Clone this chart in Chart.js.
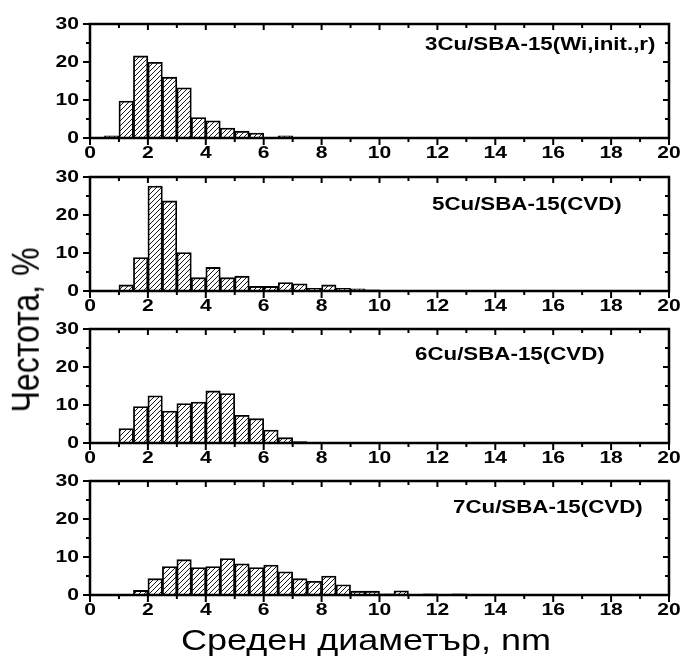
<!DOCTYPE html>
<html>
<head>
<meta charset="utf-8">
<script src="https://cdn.jsdelivr.net/npm/chart.js@4.4.0/dist/chart.umd.min.js"></script>
<style>
    html, body { margin: 0; padding: 0; background: #fff; }
    #wrap { position: relative; width: 683px; height: 666px; overflow: hidden; font-family: Arial, "Liberation Sans", sans-serif; }
    .panel { position: absolute; left: 0; width: 683px; height: 152px; }
    #ytitle { position: absolute; left: 26px; top: 330px; font-size: 32px; white-space: nowrap;
              transform: translate(-50%, -50%) rotate(-90deg) scaleY(1.2); }
    #xtitle { position: absolute; left: 366px; top: 640px; font-size: 30px; white-space: nowrap;
              transform: translate(-50%, -50%) scaleX(1.2); }
</style>
</head>
<body>
<div id="wrap">
    <div class="panel" style="top:16px"><canvas id="c0" width="683" height="152"></canvas></div>
    <div class="panel" style="top:169px"><canvas id="c1" width="683" height="152"></canvas></div>
    <div class="panel" style="top:321px"><canvas id="c2" width="683" height="152"></canvas></div>
    <div class="panel" style="top:473px"><canvas id="c3" width="683" height="152"></canvas></div>
    <div id="ytitle">Честота, %</div>
    <div id="xtitle">Среден диаметър, nm</div>
</div>

<script>
// bin centres (bin width 0.5 nm)
const bins = [0.75, 1.25, 1.75, 2.25, 2.75, 3.25, 3.75, 4.25, 4.75, 5.25, 5.75, 6.25, 6.75,
              7.25, 7.75, 8.25, 8.75, 9.25, 9.75, 10.25, 10.75, 11.25, 11.75, 12.25, 12.75];

const cu3Wi  = [0.6, 9.7, 21.6, 19.9, 16.0, 13.2, 5.4, 4.5, 2.6, 1.8, 1.3, 0, 0.6,
                0.2, 0, 0, 0, 0, 0, 0, 0, 0, 0, 0, 0];
const cu5Cvd = [0, 1.6, 8.8, 27.6, 23.7, 10.1, 3.5, 6.2, 3.5, 3.9, 1.2, 1.2, 2.2,
                1.9, 0.7, 1.6, 0.7, 0.6, 0.3, 0, 0, 0, 0, 0, 0];
const cu6Cvd = [0, 3.8, 9.6, 12.4, 8.4, 10.4, 10.8, 13.7, 13.0, 7.3, 6.4, 3.4, 1.4,
                0.35, 0, 0, 0, 0, 0, 0, 0, 0, 0, 0, 0];
const cu7Cvd = [0, 0, 1.2, 4.3, 7.5, 9.3, 7.2, 7.5, 9.6, 8.2, 7.2, 7.9, 6.1,
                4.3, 3.6, 5.0, 2.7, 1.0, 1.0, 0.3, 1.1, 0, 0.3, 0, 0.3];

const sampleNames = ['3Cu/SBA-15(Wi,init.,r)', '5Cu/SBA-15(CVD)', '6Cu/SBA-15(CVD)', '7Cu/SBA-15(CVD)'];
const seriesList = [cu3Wi, cu5Cvd, cu6Cvd, cu7Cvd];

const xTickLabels = [0, 2, 4, 6, 8, 10, 12, 14, 16, 18, 20];
const xMinorTicks = [1, 3, 5, 7, 9, 11, 13, 15, 17, 19];
const yTickLabels = [0, 10, 20, 30];
const yMinorTicks = [5, 15, 25];

// where the sample name sits inside each panel (px)
const namePos = [{ x: 425, y: 21 }, { x: 432, y: 28 }, { x: 415, y: 26 }, { x: 453, y: 27 }];

const SX = 1.24;  // the original figure is stretched horizontally

function makeHatch() {
    const c = document.createElement('canvas');
    c.width = 5;
    c.height = 5;
    const g = c.getContext('2d');
    g.fillStyle = '#fff';
    g.fillRect(0, 0, 5, 5);
    g.strokeStyle = '#000';
    g.lineWidth = 0.9;
    g.beginPath();
    g.moveTo(-1, 6); g.lineTo(6, -1);
    g.moveTo(-1, 1); g.lineTo(1, -1);
    g.moveTo(4, 6); g.lineTo(6, 4);
    g.stroke();
    return g.createPattern(c, 'repeat');
}

function wideText(ctx, str, x, y, align) {
    ctx.save();
    ctx.translate(x, y);
    ctx.scale(SX, 1);
    ctx.textAlign = align;
    ctx.fillText(str, 0, 0);
    ctx.restore();
}

const frameTicks = {
    id: 'frameTicks',
    afterDatasetsDraw(chart, args, opts) {
        const { ctx, chartArea: a } = chart;
        const x = chart.scales.x;
        const y = chart.scales.y;
        ctx.save();
        ctx.strokeStyle = '#000';
        ctx.lineWidth = 2;
        ctx.beginPath();
        xTickLabels.forEach(v => {
            const px = x.getPixelForValue(v);
            ctx.moveTo(px, a.bottom); ctx.lineTo(px, a.bottom + 7);
            ctx.moveTo(px, a.top); ctx.lineTo(px, a.top + 6);
        });
        xMinorTicks.forEach(v => {
            const px = x.getPixelForValue(v);
            ctx.moveTo(px, a.bottom); ctx.lineTo(px, a.bottom + 4);
            ctx.moveTo(px, a.top); ctx.lineTo(px, a.top + 4);
        });
        yTickLabels.forEach(v => {
            const py = y.getPixelForValue(v);
            ctx.moveTo(a.left - 7, py); ctx.lineTo(a.left, py);
            ctx.moveTo(a.right - 6, py); ctx.lineTo(a.right, py);
        });
        yMinorTicks.forEach(v => {
            const py = y.getPixelForValue(v);
            ctx.moveTo(a.left - 4, py); ctx.lineTo(a.left, py);
            ctx.moveTo(a.right - 4, py); ctx.lineTo(a.right, py);
        });
        ctx.stroke();

        ctx.lineWidth = 2.5;
        ctx.strokeRect(a.left, a.top, a.right - a.left, a.bottom - a.top);

        ctx.fillStyle = '#000';
        ctx.font = 'bold 17px Arial, "Liberation Sans", sans-serif';
        ctx.textBaseline = 'middle';
        xTickLabels.forEach(v => wideText(ctx, String(v), x.getPixelForValue(v), a.bottom + 15, 'center'));
        yTickLabels.forEach(v => wideText(ctx, String(v), a.left - 11, y.getPixelForValue(v), 'right'));

        ctx.font = 'bold 18px Arial, "Liberation Sans", sans-serif';
        wideText(ctx, opts.name, opts.nameX, a.top + opts.nameY, 'left');
        ctx.restore();
    }
};

const hatch = makeHatch();

seriesList.forEach((values, i) => {
    const ctx = document.getElementById('c' + i).getContext('2d');
    new Chart(ctx, {
        type: 'bar',
        data: {
            datasets: [{
                label: sampleNames[i],
                data: bins.map((b, k) => ({ x: b, y: values[k] })),
                backgroundColor: hatch,
                borderColor: '#000',
                borderWidth: 1.8,
                borderSkipped: 'start',
                barPercentage: 1,
                categoryPercentage: 1
            }]
        },
        options: {
            responsive: false,
            animation: false,
            layout: { padding: { left: 90, right: 14, top: 8, bottom: 30 } },
            plugins: {
                legend: { display: false },
                tooltip: { enabled: false },
                frameTicks: { name: sampleNames[i], nameX: namePos[i].x, nameY: namePos[i].y }
            },
            scales: {
                x: { type: 'linear', min: 0, max: 20, offset: false, display: false, ticks: { stepSize: 2 } },
                y: { min: 0, max: 30, display: false, ticks: { stepSize: 10 } }
            }
        },
        plugins: [frameTicks]
    });
});
</script>
</body>
</html>
